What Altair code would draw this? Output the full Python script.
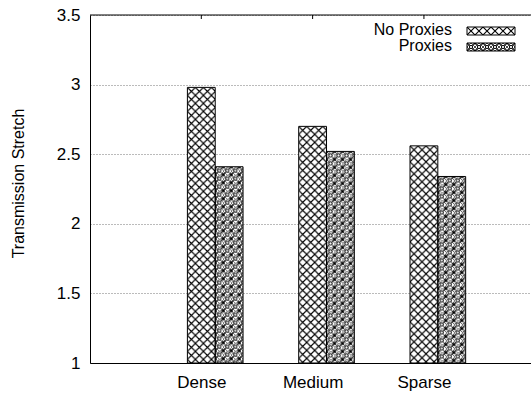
import urllib.parse

import altair as alt
import pandas as pd

# Transmission stretch per topology density, with and without proxies
categories = ["Dense", "Medium", "Sparse"]
series = ["No Proxies", "Proxies"]
no_proxies = [2.98, 2.70, 2.56]
proxies = [2.41, 2.52, 2.34]
y_ticks = [1, 1.5, 2, 2.5, 3, 3.5]

FONT = "Liberation Sans"
BAR = 0.25  # width of one bar in cluster units


def pattern_url(body):
    """Tile an 8x8 hatch pattern over the whole image area, at screen scale."""
    svg = (
        "<svg xmlns='http://www.w3.org/2000/svg'><defs>"
        "<pattern id='p' width='8' height='8' patternUnits='userSpaceOnUse'>"
        "<rect width='8' height='8' fill='white'/>" + body + "</pattern></defs>"
        "<rect width='100%' height='100%' fill='url(#p)'/></svg>"
    )
    return "data:image/svg+xml;charset=utf-8," + urllib.parse.quote(svg)


hatch = {
    "No Proxies": pattern_url(
        "<path d='M0,0L8,8M8,0L0,8' stroke='black' stroke-width='1.1' fill='none'/>"
    ),
    "Proxies": pattern_url(
        "<path d='M0,0L8,8M8,0L0,8M4,0L8,4M0,4L4,8M4,0L0,4M8,4L4,8' "
        "stroke='black' stroke-width='0.7' fill='none' shape-rendering='crispEdges'/>"
        "<circle cx='4' cy='4' r='1.6' fill='white' stroke='black' stroke-width='1'/>"
        "<rect x='0' y='0' width='1.5' height='1.5'/><rect x='6.5' y='0' width='1.5' height='1.5'/>"
        "<rect x='0' y='6.5' width='1.5' height='1.5'/><rect x='6.5' y='6.5' width='1.5' height='1.5'/>"
    ),
}

rows = []
for i, cat in enumerate(categories):
    for j, (name, vals) in enumerate(zip(series, [no_proxies, proxies])):
        x0 = i - BAR / 2 + j * BAR
        rows.append(
            {"cat": cat, "series": name, "x0": x0, "x1": x0 + BAR,
             "lo": 1.0, "val": vals[i], "url": hatch[name]}
        )
bars_df = pd.DataFrame(rows)
cat_df = pd.DataFrame({"x0": list(range(len(categories))), "cat": categories})

x_scale = alt.Scale(domain=[-1, 2.962], nice=False, zero=False)
y_scale = alt.Scale(domain=[1, 3.5], nice=False, zero=False)

label_expr = "[" + ",".join(f"'{c}'" for c in categories) + "][datum.value]"
x_axis = alt.Axis(
    values=list(range(len(categories))), labelExpr=label_expr, ticks=False,
    grid=False, domainColor="black", domainWidth=1, labelFont=FONT,
    labelFontSize=17, labelColor="black", labelPadding=11, labelFlush=False,
    labelOverlap=False, title=None,
)
y_axis = alt.Axis(
    values=y_ticks, format="~g", ticks=False, grid=True, gridDash=[1, 2],
    gridColor="#777777", gridWidth=1, domainColor="black", domainWidth=1,
    labelFont=FONT, labelFontSize=17, labelColor="black", labelPadding=10,
    labelOverlap=False, title="Transmission Stretch", titleFont=FONT,
    titleFontSize=16, titleFontWeight="normal", titleColor="black",
    titleX=-72, titleY=168, titleAngle=-90, titleAlign="center",
    titleBaseline="middle",
)

base = alt.Chart(bars_df)
bars = base.mark_image(aspect=False).encode(
    x=alt.X("x0:Q", scale=x_scale, axis=x_axis),
    x2="x1:Q",
    y=alt.Y("lo:Q", scale=y_scale, axis=y_axis),
    y2="val:Q",
    url="url:N",
)
outlines = base.mark_rect(fillOpacity=0, stroke="black", strokeWidth=1).encode(
    x=alt.X("x0:Q", scale=x_scale, axis=x_axis),
    x2="x1:Q",
    y=alt.Y("lo:Q", scale=y_scale, axis=y_axis),
    y2="val:Q",
)

# top border with the mirrored inward tics
top_border = alt.Chart(pd.DataFrame({"lo": [3.5]})).mark_rule(
    color="black", strokeWidth=1
).encode(y=alt.Y("lo:Q", scale=y_scale, axis=y_axis))
top_tics = alt.Chart(cat_df).mark_rule(color="black", strokeWidth=1).encode(
    x=alt.X("x0:Q", scale=x_scale, axis=x_axis),
    y=alt.value(0),
    y2=alt.value(4),
)

# key in the top right corner
key_layers = []
for k, name in enumerate(series):
    one = alt.Chart(pd.DataFrame({"series": [name], "url": [hatch[name]]}))
    top = 12 + 16 * k
    key_layers.append(
        one.mark_text(
            font=FONT, fontSize=16, color="black", align="right",
            baseline="alphabetic",
        ).encode(text="series:N", x=alt.value(362), y=alt.value(top + 7.5))
    )
    key_layers.append(
        one.mark_image(aspect=False).encode(
            url="url:N", x=alt.value(377), x2=alt.value(425),
            y=alt.value(top), y2=alt.value(top + 8),
        )
    )
    key_layers.append(
        one.mark_rect(fillOpacity=0, stroke="black", strokeWidth=1).encode(
            x=alt.value(377), x2=alt.value(425),
            y=alt.value(top), y2=alt.value(top + 8),
        )
    )

chart = (
    alt.layer(bars, outlines, top_border, top_tics, *key_layers)
    .properties(
        width=441,
        height=348,
        autosize=alt.AutoSizeParams(type="none"),
        padding={"left": 90, "top": 15, "right": 0, "bottom": 31},
        background="white",
    )
    .configure_view(stroke=None)
)

chart.save("out.html", embed_options={"renderer": "svg", "actions": False})
